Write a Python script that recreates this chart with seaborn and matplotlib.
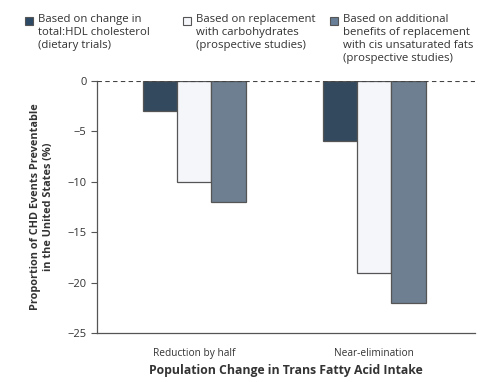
import pandas as pd
import seaborn as sns
import matplotlib.pyplot as plt
from matplotlib.patches import Rectangle

categories = ['Reduction by half', 'Near-elimination']
series = ['Based on change in\ntotal:HDL cholesterol\n(dietary trials)',
          'Based on replacement\nwith carbohydrates\n(prospective studies)',
          'Based on additional\nbenefits of replacement\nwith cis unsaturated fats\n(prospective studies)']
hdl_trials = [-3, -6]
carb_replacement = [-10, -19]
cis_unsat = [-12, -22]
colors = ['#2c4a65', '#f4f6fa', '#687f97']

df = pd.DataFrame({
    'change': categories * 3,
    'series': [series[0]] * 2 + [series[1]] * 2 + [series[2]] * 2,
    'value': hdl_trials + carb_replacement + cis_unsat,
})

plt.rcParams['font.family'] = ['Open Sans', 'DejaVu Sans']
txt = '#333333'

fig = plt.figure(figsize=(5, 3.82), dpi=100)
ax = fig.add_axes([0.194, 0.128, 0.756, 0.66])

sns.barplot(data=df, x='change', y='value', hue='series', palette=colors,
            width=0.57, edgecolor='#555555', linewidth=0.9, legend=False, ax=ax)

ax.set_ylim(-25, 0)
ax.set_xlim(-0.54, 1.56)
ax.set_yticks([0, -5, -10, -15, -20, -25])
ax.set_yticklabels(['0', '\u22125', '\u221210', '\u221215', '\u221220', '\u221225'])
ax.axhline(0, color='#444444', lw=0.8, ls=(0, (4, 3)), zorder=5)
for s in ['top', 'right']:
    ax.spines[s].set_visible(False)
for s in ['left', 'bottom']:
    ax.spines[s].set_color('#555555')
    ax.spines[s].set_linewidth(0.9)
ax.tick_params(axis='y', length=4, width=0.8, color='#555555', labelsize=8, labelcolor=txt)
ax.tick_params(axis='x', length=0, labelsize=7.3, labelcolor=txt, pad=11)
ax.set_xlabel('Population Change in Trans Fatty Acid Intake', fontsize=8.8,
              fontweight='bold', color=txt, labelpad=3)
ax.set_ylabel('Proportion of CHD Events Preventable\nin the United States (%)',
              fontsize=7.8, fontweight='bold', color=txt, labelpad=10)

# legend across the top
for i, (x, lab) in enumerate(zip([25, 183, 330], series)):
    fig.patches.append(Rectangle((x / 500, 1 - 25 / 382), 8 / 500, 8 / 382,
                                 transform=fig.transFigure, facecolor=colors[i],
                                 edgecolor='#555555', lw=0.8))
    fig.text((x + 13) / 500, 1 - 14 / 382, lab, ha='left', va='top',
             fontsize=8.2, color=txt, linespacing=1.25)

fig.savefig('out.png', dpi=100, facecolor='white')
